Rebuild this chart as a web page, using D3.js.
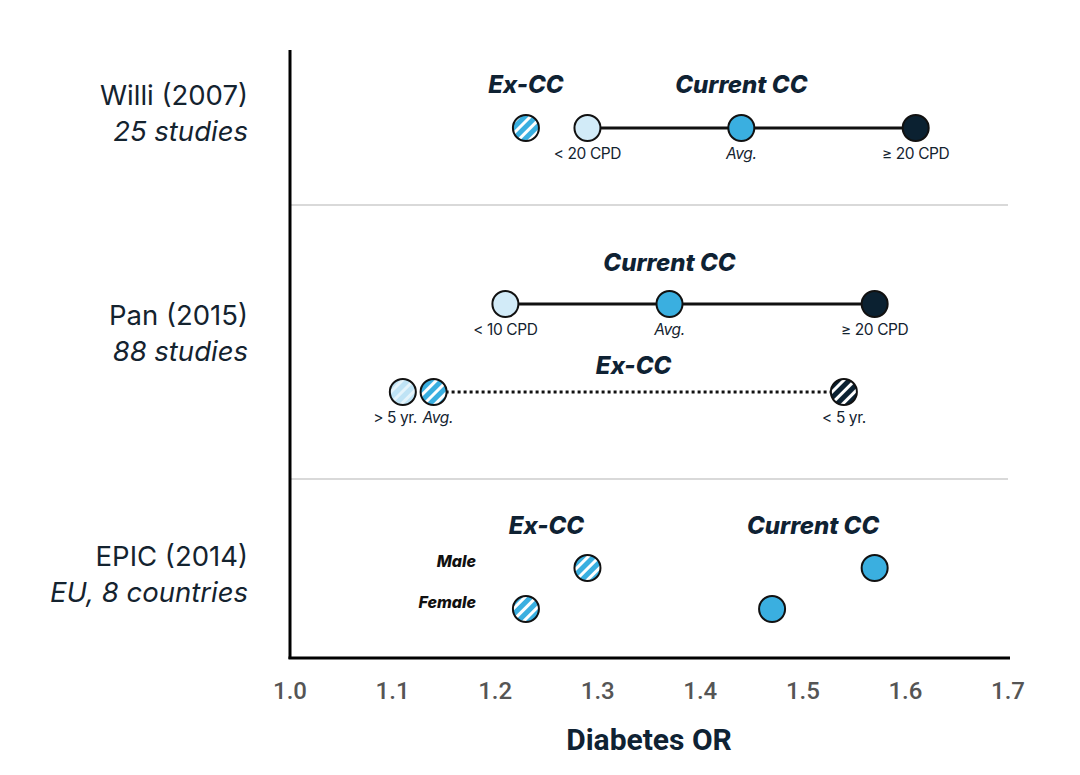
<!DOCTYPE html>
<html>
<head>
<meta charset="utf-8">
<script src="https://cdn.jsdelivr.net/npm/d3@7"></script>
<style>
  body { margin: 0; background: #fff; }
  text { font-family: Inter, "Noto Sans", sans-serif; }
</style>
</head>
<body>
<svg class="canvas"></svg>
<script>
const width = 1080;
const height = 775;

// data
const studies = ["Willi (2007)", "Pan (2015)", "EPIC (2014)"];
const studyNotes = ["25 studies", "88 studies", "EU, 8 countries"];
const ticks = [1.0, 1.1, 1.2, 1.3, 1.4, 1.5, 1.6, 1.7];

// rows: willi, panCur, panEx, epicMale, epicFemale
const rowKeys = ["willi", "panCur", "panEx", "epicMale", "epicFemale"];

const pointRows  = ["willi", "willi", "willi", "willi", "panCur", "panCur", "panCur", "panEx", "panEx", "panEx", "epicMale", "epicMale", "epicFemale", "epicFemale"];
const pointOR    = [1.23, 1.29, 1.44, 1.61, 1.21, 1.37, 1.57, 1.11, 1.14, 1.54, 1.29, 1.57, 1.23, 1.47];
const pointKind  = ["avgEx", "low", "avg", "high", "low", "avg", "high", "lowEx", "avgEx", "highEx", "avgEx", "avg", "avgEx", "avg"];
const pointLabel = ["", "< 20 CPD", "Avg.", "≥ 20 CPD", "< 10 CPD", "Avg.", "≥ 20 CPD", "> 5 yr.", "Avg.", "< 5 yr.", "", "", "", ""];

const linkRows  = ["willi", "panCur", "panEx"];
const linkFrom  = [1.29, 1.21, 1.14];
const linkTo    = [1.61, 1.57, 1.54];
const linkDash  = [false, false, true];

const groupRows   = ["willi", "willi", "panCur", "panEx", "epicMale", "epicMale"];
const groupOR     = [1.23, 1.44, 1.37, 1.335, 1.25, 1.51];
const groupTitles = ["Ex-CC", "Current CC", "Current CC", "Ex-CC", "Ex-CC", "Current CC"];

const sexRows = ["epicMale", "epicFemale"];
const sexLabels = ["Male", "Female"];

const light = "#d2ebf8", mid = "#3aafe0", dark = "#0b2131";

const svg = d3.select(".canvas").attr("width", width).attr("height", height);

const x = d3.scaleLinear().domain([1.0, 1.7]).range([290, 1008]);
const y = d3.scaleOrdinal().domain(rowKeys).range([128, 304, 392, 568, 609]);
// baseline of the group titles above each row
const yTitle = d3.scaleOrdinal().domain(["willi", "panCur", "panEx", "epicMale"]).range([93, 271, 374, 534]);

// hatch patterns
const defs = svg.append("defs");
function hatch(id, base, stripe, op) {
  const p = defs.append("pattern")
    .attr("id", id)
    .attr("patternUnits", "userSpaceOnUse")
    .attr("width", 8).attr("height", 8)
    .attr("patternTransform", "rotate(45)");
  p.append("rect").attr("width", 8).attr("height", 8).attr("fill", base);
  p.append("rect").attr("x", 0).attr("width", 3).attr("height", 8).attr("fill", stripe).attr("opacity", op);
}
hatch("h-light", "#bfe3f5", "#ffffff", 0.6);
hatch("h-mid", mid, "#ffffff", 1);
hatch("h-dark", dark, "#ffffff", 1);

const fills = {
  low: light, avg: mid, high: dark,
  lowEx: "url(#h-light)", avgEx: "url(#h-mid)", highEx: "url(#h-dark)"
};

// separators
svg.selectAll(".sep")
  .data([205, 479])
  .join("line")
  .attr("x1", 290).attr("x2", 1008)
  .attr("y1", d => d).attr("y2", d => d)
  .attr("stroke", "#cccccc").attr("stroke-width", 1.5);

// axes lines
svg.append("line")
  .attr("x1", 290).attr("x2", 290).attr("y1", 50).attr("y2", 659)
  .attr("stroke", "#000").attr("stroke-width", 3);
svg.append("line")
  .attr("x1", 288.5).attr("x2", 1010).attr("y1", 658).attr("y2", 658)
  .attr("stroke", "#000").attr("stroke-width", 3);

// tick labels
svg.selectAll(".tick")
  .data(ticks)
  .join("text")
  .attr("x", d => x(d))
  .attr("y", 699)
  .attr("text-anchor", "middle")
  .style("font-family", "Roboto, sans-serif")
  .style("font-size", "24px")
  .style("font-weight", 500)
  .attr("fill", "#555")
  .text(d => d.toFixed(1));

svg.append("text")
  .attr("x", x(1.35))
  .attr("y", 750)
  .attr("text-anchor", "middle")
  .style("font-family", "Roboto, sans-serif")
  .style("font-size", "30px")
  .style("font-weight", 700)
  .attr("fill", "#0f2233")
  .text("Diabetes OR");

// study labels
const studyY = [y("willi"), (y("panCur") + y("panEx")) / 2, (y("epicMale") + y("epicFemale")) / 2];
studies.forEach((s, i) => {
  svg.append("text")
    .attr("x", 248).attr("y", studyY[i] - 23)
    .attr("text-anchor", "end")
    .style("font-size", "27.5px")
    .attr("fill", "#14232f")
    .text(s);
  svg.append("text")
    .attr("x", 248).attr("y", studyY[i] + 13)
    .attr("text-anchor", "end")
    .style("font-size", "27.5px")
    .style("font-style", "italic")
    .attr("fill", "#14232f")
    .text(studyNotes[i]);
});

// links
linkRows.forEach((r, i) => {
  svg.append("line")
    .attr("x1", x(linkFrom[i])).attr("x2", x(linkTo[i]))
    .attr("y1", y(r)).attr("y2", y(r))
    .attr("stroke", "#111")
    .attr("stroke-width", 3)
    .attr("stroke-dasharray", linkDash[i] ? "3,3" : null);
});

// group titles
groupRows.forEach((r, i) => {
  svg.append("text")
    .attr("x", x(groupOR[i]))
    .attr("y", yTitle(r))
    .attr("text-anchor", "middle")
    .style("font-size", "24px")
    .style("font-weight", 800)
    .style("font-style", "italic")
    .attr("fill", "#0f2233")
    .text(groupTitles[i]);
});

// sex labels
sexRows.forEach((r, i) => {
  svg.append("text")
    .attr("x", 476).attr("y", y(r) - 1)
    .attr("text-anchor", "end")
    .style("font-size", "16px")
    .style("font-weight", 800)
    .style("font-style", "italic")
    .attr("fill", "#111")
    .text(sexLabels[i]);
});

// points
const pts = pointOR.map((v, i) => ({ or: v, row: pointRows[i], kind: pointKind[i], label: pointLabel[i] }));

svg.selectAll(".pt")
  .data(pts)
  .join("circle")
  .attr("class", "pt")
  .attr("cx", d => x(d.or))
  .attr("cy", d => y(d.row))
  .attr("r", 13)
  .attr("fill", d => fills[d.kind])
  .attr("stroke", "#111")
  .attr("stroke-width", 2);

svg.selectAll(".lbl")
  .data(pts.filter(d => d.label))
  .join("text")
  .attr("class", "lbl")
  .attr("x", d => {
    if (d.kind === "lowEx") return x(d.or) + 14;
    if (d.kind === "avgEx") return x(d.or) - 11;
    return x(d.or);
  })
  .attr("y", d => y(d.row) + 31)
  .attr("text-anchor", d => d.kind === "lowEx" ? "end" : d.kind === "avgEx" ? "start" : "middle")
  .style("font-size", "15.5px")
  .style("letter-spacing", "-0.4px")
  .style("font-style", d => d.label === "Avg." ? "italic" : "normal")
  .attr("fill", "#14232f")
  .text(d => d.label);
</script>
</body>
</html>
